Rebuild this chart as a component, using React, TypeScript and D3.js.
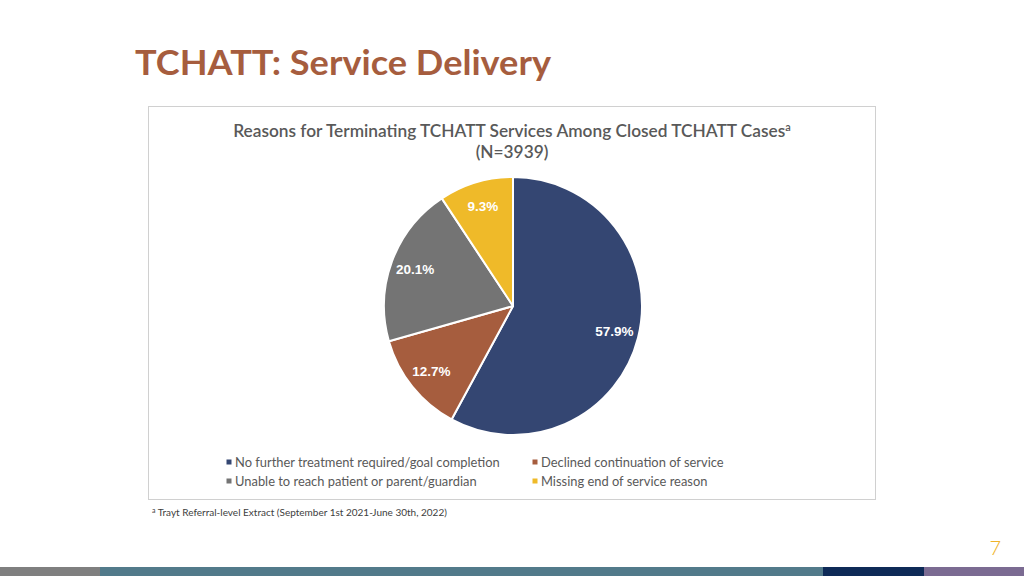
import React from "react";
import * as d3 from "d3";

const categories = [
  "No further treatment required/goal completion",
  "Declined continuation of service",
  "Unable to reach patient or parent/guardian",
  "Missing end of service reason",
];
const values = [57.9, 12.7, 20.1, 9.3];
const colors = ["#344672", "#a65d3e", "#747474", "#efba29"];
const legendOrder = [0, 1, 2, 3];

export default function App() {
  const W = 1024, H = 576;
  const cx = 513, cy = 306, r = 129;
  const pie = d3.pie<number>().sort(null).value((d) => d)(values);
  const arc = d3.arc<d3.PieArcDatum<number>>().innerRadius(0).outerRadius(r);
  const labelArc = d3.arc<d3.PieArcDatum<number>>().innerRadius(r * 0.81).outerRadius(r * 0.81);
  const legendPos = [
    { x: 229, y: 462 },
    { x: 535, y: 462 },
    { x: 229, y: 481 },
    { x: 535, y: 481 },
  ];
  const font = "Lato, 'Open Sans', sans-serif";
  return (
    <svg width={W} height={H} style={{ position: "absolute", left: 0, top: 0, background: "#fff" }}>
      <rect x={0} y={0} width={W} height={H} fill="#fff" />
      <text x={135} y={75} fontFamily="Lato, sans-serif" fontWeight={700} fontSize={34} fill="#a65d3e" textLength={416} lengthAdjust="spacingAndGlyphs">
        TCHATT: Service Delivery
      </text>
      <rect x={148.5} y={106.5} width={727} height={393} fill="none" stroke="#d0d0d0" strokeWidth={1} />
      <text x={512} y={137} textAnchor="middle" fontFamily={font} fontWeight={600} fontSize={17.3} fill="#595959">
        Reasons for Terminating TCHATT Services Among Closed TCHATT Cases
        <tspan fontSize={11} dy={-6}>a</tspan>
      </text>
      <text x={512} y={158} textAnchor="middle" fontFamily={font} fontWeight={600} fontSize={17.3} fill="#595959">
        (N=3939)
      </text>
      <g transform={`translate(${cx},${cy})`}>
        {pie.map((p, i) => (
          <path key={i} d={arc(p) || ""} fill={colors[i]} stroke="#fff" strokeWidth={2} strokeLinejoin="round" />
        ))}
        {pie.map((p, i) => {
          const [x, y] = labelArc.centroid(p);
          return (
            <text key={"l" + i} x={x} y={y} dy="0.35em" textAnchor="middle" fontFamily="'Liberation Sans', Arial, sans-serif" fontWeight={700} fontSize={13.5} fill="#fff">
              {values[i].toFixed(1)}%
            </text>
          );
        })}
      </g>
      {legendOrder.map((idx, j) => (
        <g key={"lg" + idx}>
          <rect x={legendPos[j].x - 2.5} y={legendPos[j].y - 2.5} width={5} height={5} fill={colors[idx]} />
          <text x={legendPos[j].x + 6} y={legendPos[j].y} dy="0.35em" fontFamily={font} fontSize={12.9} fill="#595959">
            {categories[idx]}
          </text>
        </g>
      ))}
      <text x={152} y={516} fontFamily={font} fontSize={10} fill="#404040">
        <tspan fontSize={7} dy={-3}>a</tspan>
        <tspan dy={3}> Trayt Referral-level Extract (September 1st 2021-June 30th, 2022)</tspan>
      </text>
      <text x={1001} y={555} textAnchor="end" fontFamily={font} fontWeight={300} fontSize={20} fill="#efb329">7</text>
      <rect x={0} y={567} width={100} height={9} fill="#7f7f7f" />
      <rect x={100} y={567} width={723} height={9} fill="#527a8a" />
      <rect x={823} y={567} width={101} height={9} fill="#0e2a57" />
      <rect x={924} y={567} width={100} height={9} fill="#7b6b92" />
    </svg>
  );
}
